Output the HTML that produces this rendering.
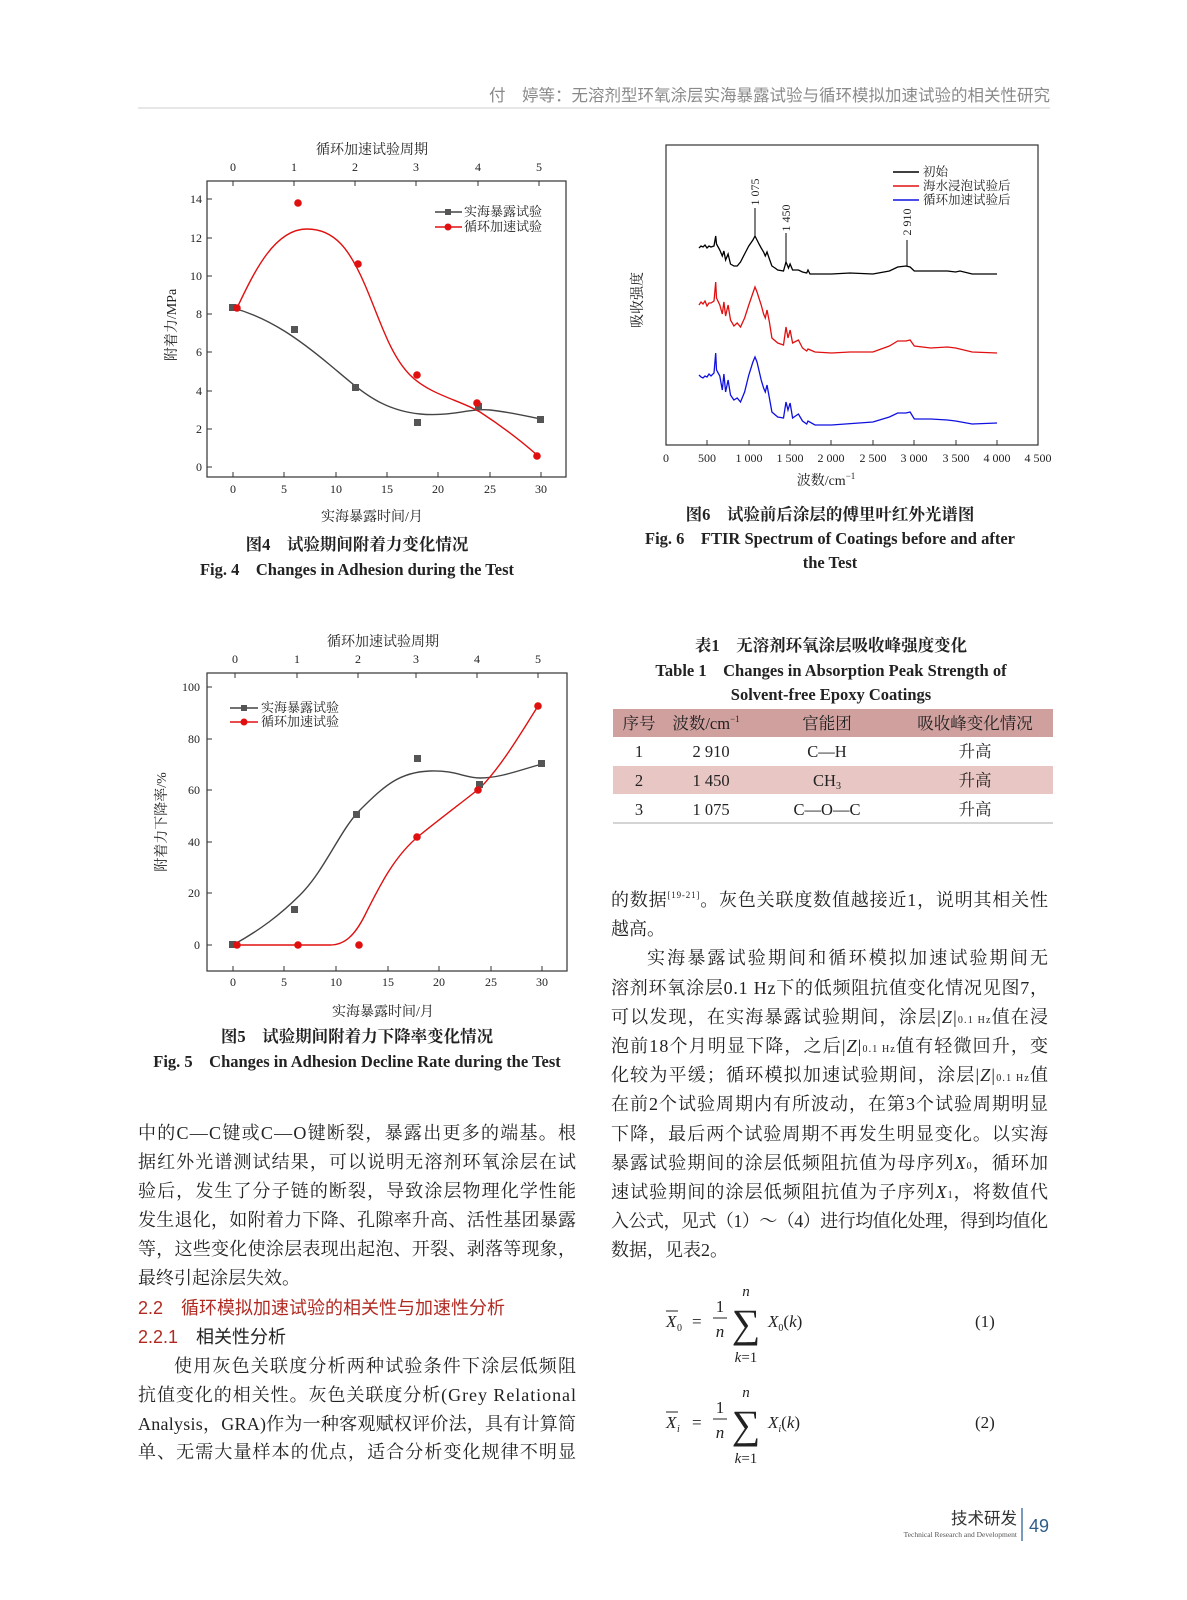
<!DOCTYPE html>
<html><head><meta charset="utf-8"><style>
html,body{margin:0;padding:0;background:#fff}
svg{display:block}
.s{font-family:"Liberation Serif","Noto Serif CJK SC",serif}
.h{font-family:"Liberation Sans","Noto Sans CJK SC",sans-serif}
</style></head><body>
<svg width="1187" height="1600" viewBox="0 0 1187 1600" xmlns="http://www.w3.org/2000/svg" class="s">
<!-- header -->
<text x="1050" y="101" text-anchor="end" font-size="16.5" fill="#8a8a8a" class="h">付　婷等：无溶剂型环氧涂层实海暴露试验与循环模拟加速试验的相关性研究</text>
<line x1="138" y1="108" x2="1050" y2="108" stroke="#cfcfcf" stroke-width="1"/>

<!-- ============ FIG 4 ============ -->
<g font-size="12" fill="#222">
<rect x="207" y="181" width="359" height="296" fill="none" stroke="#333" stroke-width="1.2"/>
<text x="372" y="154" text-anchor="middle" font-size="14">循环加速试验周期</text>
<g text-anchor="middle">
<text x="233" y="171">0</text><text x="294" y="171">1</text><text x="355" y="171">2</text><text x="416" y="171">3</text><text x="478" y="171">4</text><text x="539" y="171">5</text>
<text x="233" y="493">0</text><text x="284" y="493">5</text><text x="336" y="493">10</text><text x="387" y="493">15</text><text x="438" y="493">20</text><text x="490" y="493">25</text><text x="541" y="493">30</text>
</g>
<g stroke="#333" stroke-width="1">
<line x1="233" y1="477" x2="233" y2="472"/><line x1="284" y1="477" x2="284" y2="472"/><line x1="336" y1="477" x2="336" y2="472"/><line x1="387" y1="477" x2="387" y2="472"/><line x1="438" y1="477" x2="438" y2="472"/><line x1="490" y1="477" x2="490" y2="472"/><line x1="541" y1="477" x2="541" y2="472"/>
<line x1="233" y1="181" x2="233" y2="186"/><line x1="294" y1="181" x2="294" y2="186"/><line x1="355" y1="181" x2="355" y2="186"/><line x1="416" y1="181" x2="416" y2="186"/><line x1="478" y1="181" x2="478" y2="186"/><line x1="539" y1="181" x2="539" y2="186"/>
<line x1="207" y1="467" x2="212" y2="467"/><line x1="207" y1="429" x2="212" y2="429"/><line x1="207" y1="391" x2="212" y2="391"/><line x1="207" y1="352" x2="212" y2="352"/><line x1="207" y1="314" x2="212" y2="314"/><line x1="207" y1="276" x2="212" y2="276"/><line x1="207" y1="238" x2="212" y2="238"/><line x1="207" y1="199" x2="212" y2="199"/>
</g>
<g text-anchor="end">
<text x="202" y="471">0</text><text x="202" y="433">2</text><text x="202" y="395">4</text><text x="202" y="356">6</text><text x="202" y="318">8</text><text x="202" y="280">10</text><text x="202" y="242">12</text><text x="202" y="203">14</text>
</g>
<text x="372" y="521" text-anchor="middle" font-size="14">实海暴露时间/月</text>
<text transform="translate(176,325) rotate(-90)" text-anchor="middle" font-size="14">附着力/MPa</text>
<path d="M233,308 C270,318 300,340 330,365 C360,390 380,410 420,414 C450,417 470,408 490,410 C510,412 530,417 541,419" fill="none" stroke="#444" stroke-width="1.4"/>
<path d="M237,308 C255,270 275,229 307,229 C335,229 350,250 365,285 C380,320 390,355 410,375 C430,395 460,400 480,412 C500,425 520,440 537,455" fill="none" stroke="#e01010" stroke-width="1.4"/>
<g fill="#555"><rect x="229" y="304" width="7" height="7"/><rect x="291" y="326" width="7" height="7"/><rect x="352" y="384" width="7" height="7"/><rect x="414" y="419" width="7" height="7"/><rect x="475" y="403" width="7" height="7"/><rect x="537" y="416" width="7" height="7"/></g>
<g fill="#e01010"><circle cx="237" cy="308" r="3.8"/><circle cx="298" cy="203" r="3.8"/><circle cx="358" cy="264" r="3.8"/><circle cx="417" cy="375" r="3.8"/><circle cx="477" cy="403" r="3.8"/><circle cx="537" cy="456" r="3.8"/></g>
<line x1="435" y1="212" x2="462" y2="212" stroke="#444" stroke-width="1.4"/><rect x="445" y="209" width="6" height="6" fill="#555"/>
<line x1="435" y1="227" x2="462" y2="227" stroke="#e01010" stroke-width="1.4"/><circle cx="448" cy="227" r="3.5" fill="#e01010"/>
<text x="464" y="216" font-size="13">实海暴露试验</text><text x="464" y="231" font-size="13">循环加速试验</text>
</g>
<text x="357" y="550" text-anchor="middle" font-size="16.5" font-weight="bold" fill="#222">图4　试验期间附着力变化情况</text>
<text x="357" y="575" text-anchor="middle" font-size="16.5" font-weight="bold" fill="#222">Fig. 4　Changes in Adhesion during the Test</text>

<!-- ============ FIG 6 ============ -->
<g font-size="12" fill="#222">
<rect x="666" y="145" width="372" height="300" fill="none" stroke="#333" stroke-width="1.2"/>
<g stroke="#333" stroke-width="1">
<line x1="666" y1="445" x2="666" y2="440"/><line x1="707" y1="445" x2="707" y2="440"/><line x1="749" y1="445" x2="749" y2="440"/><line x1="790" y1="445" x2="790" y2="440"/><line x1="831" y1="445" x2="831" y2="440"/><line x1="873" y1="445" x2="873" y2="440"/><line x1="914" y1="445" x2="914" y2="440"/><line x1="956" y1="445" x2="956" y2="440"/><line x1="997" y1="445" x2="997" y2="440"/>
</g>
<g text-anchor="middle">
<text x="666" y="462">0</text><text x="707" y="462">500</text><text x="749" y="462">1 000</text><text x="790" y="462">1 500</text><text x="831" y="462">2 000</text><text x="873" y="462">2 500</text><text x="914" y="462">3 000</text><text x="956" y="462">3 500</text><text x="997" y="462">4 000</text><text x="1038" y="462">4 500</text>
</g>
<text x="826" y="485" text-anchor="middle" font-size="14">波数/cm<tspan font-size="9" dy="-6">−1</tspan></text>
<text transform="translate(642,300) rotate(-90)" text-anchor="middle" font-size="14">吸收强度</text>
<polyline fill="none" stroke="#000" stroke-width="1.3" points="699,248 701,246 703,247 705,245 707,248 709,246 711,247 714,246 715.7,236 716.5,244 719.8,250 722.3,256 723.9,251 725.6,260 728.1,254 730.5,264 733.9,266 737.2,266 740.5,262 744.6,254 748.8,246 752.9,240 755,236 757,240 759,244 761.2,248 763.6,252 765.3,256 767,252 769.4,259 771.9,266 775,268 777.7,270 783.5,271 786,262 788.5,268 790.1,264 792.6,270 798.4,270 802.5,272 806.7,273 808,270 810,274 815,274 831.5,274 850,273 872.9,274 889.4,271 897.7,267 906,266 910.1,267 914.3,271 930.8,271 947.4,271 955.6,272 960,271 972.2,274 997,274"/>
<polyline fill="none" stroke="#e01010" stroke-width="1.3" points="699,305 701,302 703,304 705,301 707,306 709,303 711,303 714,301 715.7,282 716.5,298 719.8,305 722.3,314 723.9,302 725.6,316 728.1,305 730.5,320 733.9,326 737.2,323 740.5,327 744.6,318 748.8,305 752.9,293 755,287 757,292 761.2,305 763.6,314 765.3,318 767,310 769.4,322 771.9,338 777.7,343 783.5,345 786,327 788,338 790.1,330 792.6,343 798.4,340 802.5,348 806.7,351 808,349 815,352 831.5,353 850,352 872.9,352 889.4,346 897.7,341 906,341 910.1,340 914.3,346 930.8,348 947.4,347 955.6,348 972.2,352 997,353"/>
<polyline fill="none" stroke="#1010e0" stroke-width="1.3" points="699,375 701,377 703,378 705,376 707,377 709,374 711,376 714,373 715.7,353 716.5,370 719.8,376 722.3,390 723.9,374 725.6,392 728.1,380 730.5,395 733.9,400 737.2,398 740.5,402 744.6,392 748.8,375 752.9,362 755,357 757,362 761.2,380 763.6,388 765.3,392 767,385 769.4,398 771.9,412 777.7,417 783.5,418 786,402 788,410 790.1,403 792.6,418 798.4,414 802.5,421 806.7,424 808,421 815,425 831.5,425 872.9,422 889.4,417 897.7,413 906,413 910.1,412 914.3,419 930.8,419 947.4,420 955.6,421 972.2,424 997,423"/>
<g stroke="#000" stroke-width="1"><line x1="755" y1="208" x2="755" y2="236"/><line x1="786" y1="233" x2="786" y2="262"/><line x1="907" y1="240" x2="907" y2="266"/></g>
<text transform="translate(759,192) rotate(-90)" text-anchor="middle">1 075</text>
<text transform="translate(790,218) rotate(-90)" text-anchor="middle">1 450</text>
<text transform="translate(911,222) rotate(-90)" text-anchor="middle">2 910</text>
<line x1="893" y1="172" x2="919" y2="172" stroke="#000" stroke-width="1.4"/>
<line x1="893" y1="186" x2="919" y2="186" stroke="#e01010" stroke-width="1.4"/>
<line x1="893" y1="200" x2="919" y2="200" stroke="#1010e0" stroke-width="1.4"/>
<text x="923" y="176" font-size="12.5">初始</text><text x="923" y="190" font-size="12.5">海水浸泡试验后</text><text x="923" y="204" font-size="12.5">循环加速试验后</text>
</g>
<text x="830" y="520" text-anchor="middle" font-size="16.5" font-weight="bold" fill="#222">图6　试验前后涂层的傅里叶红外光谱图</text>
<text x="830" y="544" text-anchor="middle" font-size="16.5" font-weight="bold" fill="#222">Fig. 6　FTIR Spectrum of Coatings before and after</text>
<text x="830" y="568" text-anchor="middle" font-size="16.5" font-weight="bold" fill="#222">the Test</text>

<!-- ============ FIG 5 ============ -->
<g font-size="12" fill="#222">
<rect x="207" y="673" width="360" height="298" fill="none" stroke="#333" stroke-width="1.2"/>
<text x="383" y="646" text-anchor="middle" font-size="14">循环加速试验周期</text>
<g text-anchor="middle">
<text x="235" y="663">0</text><text x="297" y="663">1</text><text x="358" y="663">2</text><text x="416" y="663">3</text><text x="477" y="663">4</text><text x="538" y="663">5</text>
<text x="233" y="986">0</text><text x="284" y="986">5</text><text x="336" y="986">10</text><text x="388" y="986">15</text><text x="439" y="986">20</text><text x="491" y="986">25</text><text x="542" y="986">30</text>
</g>
<g stroke="#333" stroke-width="1">
<line x1="233" y1="971" x2="233" y2="966"/><line x1="284" y1="971" x2="284" y2="966"/><line x1="336" y1="971" x2="336" y2="966"/><line x1="388" y1="971" x2="388" y2="966"/><line x1="439" y1="971" x2="439" y2="966"/><line x1="491" y1="971" x2="491" y2="966"/><line x1="542" y1="971" x2="542" y2="966"/>
<line x1="235" y1="673" x2="235" y2="678"/><line x1="297" y1="673" x2="297" y2="678"/><line x1="358" y1="673" x2="358" y2="678"/><line x1="416" y1="673" x2="416" y2="678"/><line x1="477" y1="673" x2="477" y2="678"/><line x1="538" y1="673" x2="538" y2="678"/>
<line x1="207" y1="945" x2="212" y2="945"/><line x1="207" y1="893" x2="212" y2="893"/><line x1="207" y1="842" x2="212" y2="842"/><line x1="207" y1="790" x2="212" y2="790"/><line x1="207" y1="739" x2="212" y2="739"/><line x1="207" y1="687" x2="212" y2="687"/>
</g>
<g text-anchor="end">
<text x="200" y="949">0</text><text x="200" y="897">20</text><text x="200" y="846">40</text><text x="200" y="794">60</text><text x="200" y="743">80</text><text x="200" y="691">100</text>
</g>
<text x="383" y="1016" text-anchor="middle" font-size="14">实海暴露时间/月</text>
<text transform="translate(166,822) rotate(-90)" text-anchor="middle" font-size="14">附着力下降率/%</text>
<path d="M233,945 C260,930 280,915 300,895 C325,870 340,830 360,810 C385,785 400,772 430,771 C455,770 465,778 480,778 C500,778 520,770 542,764" fill="none" stroke="#444" stroke-width="1.4"/>
<path d="M237,945 L330,945 C345,945 355,935 365,915 C380,885 395,855 420,835 C445,815 465,800 480,788 C500,768 520,735 538,706" fill="none" stroke="#e01010" stroke-width="1.4"/>
<g fill="#555"><rect x="229" y="941" width="7" height="7"/><rect x="291" y="906" width="7" height="7"/><rect x="353" y="811" width="7" height="7"/><rect x="414" y="755" width="7" height="7"/><rect x="476" y="781" width="7" height="7"/><rect x="538" y="760" width="7" height="7"/></g>
<g fill="#e01010"><circle cx="237" cy="945" r="3.8"/><circle cx="298" cy="945" r="3.8"/><circle cx="359" cy="945" r="3.8"/><circle cx="417" cy="837" r="3.8"/><circle cx="478" cy="790" r="3.8"/><circle cx="538" cy="706" r="3.8"/></g>
<line x1="230" y1="708" x2="258" y2="708" stroke="#444" stroke-width="1.4"/><rect x="241" y="705" width="6" height="6" fill="#555"/>
<line x1="230" y1="722" x2="258" y2="722" stroke="#e01010" stroke-width="1.4"/><circle cx="244" cy="722" r="3.5" fill="#e01010"/>
<text x="261" y="712" font-size="13">实海暴露试验</text><text x="261" y="726" font-size="13">循环加速试验</text>
</g>
<text x="357" y="1042" text-anchor="middle" font-size="16.5" font-weight="bold" fill="#222">图5　试验期间附着力下降率变化情况</text>
<text x="357" y="1067" text-anchor="middle" font-size="16.5" font-weight="bold" fill="#222">Fig. 5　Changes in Adhesion Decline Rate during the Test</text>

<!-- ============ TABLE 1 ============ -->
<g fill="#222">
<text x="831" y="651" text-anchor="middle" font-size="16.5" font-weight="bold">表1　无溶剂环氧涂层吸收峰强度变化</text>
<text x="831" y="676" text-anchor="middle" font-size="16.5" font-weight="bold">Table 1　Changes in Absorption Peak Strength of</text>
<text x="831" y="700" text-anchor="middle" font-size="16.5" font-weight="bold">Solvent-free Epoxy Coatings</text>
<rect x="613" y="709" width="440" height="28" fill="#cfa09e"/>
<rect x="613" y="766" width="440" height="28" fill="#e8c6c3"/>
<line x1="613" y1="823" x2="1053" y2="823" stroke="#bbb" stroke-width="1.2"/>
<g font-size="16.5" text-anchor="middle">
<text x="639" y="729">序号</text><text x="706" y="729">波数/cm<tspan font-size="9" dy="-7">−1</tspan></text><text x="827" y="729">官能团</text><text x="975" y="729">吸收峰变化情况</text>
<text x="639" y="757">1</text><text x="711" y="757">2 910</text><text x="827" y="757">C—H</text><text x="975" y="757">升高</text>
<text x="639" y="786">2</text><text x="711" y="786">1 450</text><text x="827" y="786">CH<tspan font-size="10" dy="3">3</tspan></text><text x="975" y="786">升高</text>
<text x="639" y="815">3</text><text x="711" y="815">1 075</text><text x="827" y="815">C—O—C</text><text x="975" y="815">升高</text>
</g>
</g>

<!-- ============ RIGHT BODY TEXT ============ -->
<g font-size="18" fill="#222">
<text x="611" y="906" textLength="437" lengthAdjust="spacing">的数据<tspan font-size="9" dy="-8">[19-21]</tspan><tspan dy="8">。灰色关联度数值越接近1，说明其相关性</tspan></text>
<text x="611" y="935">越高。</text>
<text x="647" y="964" textLength="401" lengthAdjust="spacing">实海暴露试验期间和循环模拟加速试验期间无</text>
<text x="611" y="994" textLength="437" lengthAdjust="spacing">溶剂环氧涂层0.1 Hz下的低频阻抗值变化情况见图7，</text>
<text x="611" y="1023" textLength="437" lengthAdjust="spacing">可以发现，在实海暴露试验期间，涂层|<tspan font-style="italic">Z</tspan>|<tspan font-size="10">0.1 Hz</tspan>值在浸</text>
<text x="611" y="1052" textLength="437" lengthAdjust="spacing">泡前18个月明显下降，之后|<tspan font-style="italic">Z</tspan>|<tspan font-size="10">0.1 Hz</tspan>值有轻微回升，变</text>
<text x="611" y="1081" textLength="437" lengthAdjust="spacing">化较为平缓；循环模拟加速试验期间，涂层|<tspan font-style="italic">Z</tspan>|<tspan font-size="10">0.1 Hz</tspan>值</text>
<text x="611" y="1110" textLength="437" lengthAdjust="spacing">在前2个试验周期内有所波动，在第3个试验周期明显</text>
<text x="611" y="1140" textLength="437" lengthAdjust="spacing">下降，最后两个试验周期不再发生明显变化。以实海</text>
<text x="611" y="1169" textLength="437" lengthAdjust="spacing">暴露试验期间的涂层低频阻抗值为母序列<tspan font-style="italic">X</tspan><tspan font-size="10">0</tspan>，循环加</text>
<text x="611" y="1198" textLength="437" lengthAdjust="spacing">速试验期间的涂层低频阻抗值为子序列<tspan font-style="italic">X</tspan><tspan font-size="10">1</tspan>，将数值代</text>
<text x="611" y="1227" textLength="437" lengthAdjust="spacing">入公式，见式（1）～（4）进行均值化处理，得到均值化</text>
<text x="611" y="1256">数据，见表2。</text>
</g>

<!-- ============ LEFT BODY TEXT ============ -->
<g font-size="18" fill="#222">
<text x="138" y="1139" textLength="438" lengthAdjust="spacing">中的C—C键或C—O键断裂，暴露出更多的端基。根</text>
<text x="138" y="1168" textLength="438" lengthAdjust="spacing">据红外光谱测试结果，可以说明无溶剂环氧涂层在试</text>
<text x="138" y="1197" textLength="438" lengthAdjust="spacing">验后，发生了分子链的断裂，导致涂层物理化学性能</text>
<text x="138" y="1226" textLength="438" lengthAdjust="spacing">发生退化，如附着力下降、孔隙率升高、活性基团暴露</text>
<text x="138" y="1255" textLength="438" lengthAdjust="spacing">等，这些变化使涂层表现出起泡、开裂、剥落等现象，</text>
<text x="138" y="1284">最终引起涂层失效。</text>
<text x="138" y="1314" font-size="18" fill="#b02a22" class="h">2.2　循环模拟加速试验的相关性与加速性分析</text>
<text x="138" y="1343" font-size="18" class="h"><tspan fill="#b02a22">2.2.1</tspan>　相关性分析</text>
<text x="174" y="1372" textLength="402" lengthAdjust="spacing">使用灰色关联度分析两种试验条件下涂层低频阻</text>
<text x="138" y="1401" textLength="438" lengthAdjust="spacing">抗值变化的相关性。灰色关联度分析(Grey Relational</text>
<text x="138" y="1430" textLength="438" lengthAdjust="spacing">Analysis，GRA)作为一种客观赋权评价法，具有计算简</text>
<text x="138" y="1458" textLength="438" lengthAdjust="spacing">单、无需大量样本的优点，适合分析变化规律不明显</text>
</g>

<!-- ============ FORMULAS ============ -->
<g fill="#222" font-size="17">
<text x="666" y="1327" font-style="italic">X</text><line x1="666" y1="1311" x2="678" y2="1311" stroke="#222"/><text x="677" y="1331" font-size="10">0</text>
<text x="692" y="1327">=</text>
<text x="720" y="1312" text-anchor="middle">1</text><line x1="713" y1="1318" x2="727" y2="1318" stroke="#222"/><text x="720" y="1337" text-anchor="middle" font-style="italic">n</text>
<text x="746" y="1337" text-anchor="middle" font-size="40">∑</text>
<text x="746" y="1296" text-anchor="middle" font-style="italic" font-size="15">n</text>
<text x="746" y="1362" text-anchor="middle" font-size="15"><tspan font-style="italic">k</tspan>=1</text>
<text x="768" y="1327"><tspan font-style="italic">X</tspan><tspan font-size="10" dy="4">0</tspan><tspan dy="-4">(</tspan><tspan font-style="italic">k</tspan>)</text>
<text x="975" y="1327">(1)</text>

<text x="666" y="1428" font-style="italic">X</text><line x1="666" y1="1412" x2="678" y2="1412" stroke="#222"/><text x="677" y="1432" font-size="10" font-style="italic">i</text>
<text x="692" y="1428">=</text>
<text x="720" y="1413" text-anchor="middle">1</text><line x1="713" y1="1419" x2="727" y2="1419" stroke="#222"/><text x="720" y="1438" text-anchor="middle" font-style="italic">n</text>
<text x="746" y="1438" text-anchor="middle" font-size="40">∑</text>
<text x="746" y="1397" text-anchor="middle" font-style="italic" font-size="15">n</text>
<text x="746" y="1463" text-anchor="middle" font-size="15"><tspan font-style="italic">k</tspan>=1</text>
<text x="768" y="1428"><tspan font-style="italic">X</tspan><tspan font-size="10" font-style="italic" dy="4">i</tspan><tspan dy="-4">(</tspan><tspan font-style="italic">k</tspan>)</text>
<text x="975" y="1428">(2)</text>
</g>

<!-- ============ FOOTER ============ -->
<text x="1017" y="1524" text-anchor="end" font-size="16.5" fill="#333" class="h">技术研发</text>
<text x="1017" y="1537" text-anchor="end" font-size="7.5" fill="#555">Technical Research and Development</text>
<line x1="1022" y1="1508" x2="1022" y2="1541" stroke="#4a78a8" stroke-width="1.5"/>
<text x="1029" y="1532" font-size="18" fill="#2f5d8a" class="h">49</text>
</svg>
</body></html>
